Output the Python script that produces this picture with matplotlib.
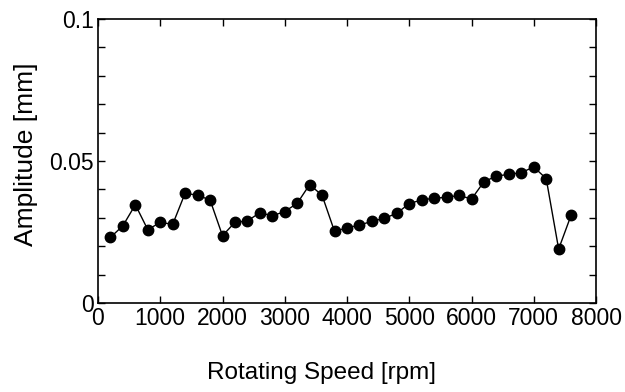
import numpy as np
import matplotlib
matplotlib.use("Agg")
import matplotlib.pyplot as plt
from matplotlib.ticker import MultipleLocator, FuncFormatter

plt.rcParams['font.family'] = ['Liberation Sans', 'DejaVu Sans']

# Rotating speed [rpm] and measured amplitude [mm]
speed = [200, 400, 600, 800, 1000, 1200, 1400, 1600, 1800, 2000,
         2200, 2400, 2600, 2800, 3000, 3200, 3400, 3600, 3800, 4000,
         4200, 4400, 4600, 4800, 5000, 5200, 5400, 5600, 5800, 6000,
         6200, 6400, 6600, 6800, 7000, 7200, 7400, 7600]
amplitude = [0.0231, 0.0272, 0.0346, 0.0258, 0.0284, 0.0277, 0.0387, 0.0379, 0.0363, 0.0237,
             0.0284, 0.0289, 0.0318, 0.0307, 0.0322, 0.0351, 0.0417, 0.0379, 0.0252, 0.0265,
             0.0274, 0.0288, 0.0298, 0.0316, 0.0350, 0.0363, 0.0369, 0.0372, 0.0379, 0.0366,
             0.0427, 0.0447, 0.0453, 0.0459, 0.0479, 0.0438, 0.0190, 0.0309]

fig = plt.figure(figsize=(6.25, 3.92), dpi=100)
ax = fig.add_axes([98/625, 1 - 303/392, 498/625, 284/392])

ax.plot(speed, amplitude, color='black', linewidth=1.0,
        marker='o', markersize=7.5, markerfacecolor='black', markeredgecolor='black')

ax.set_xlim(0, 8000)
ax.set_ylim(0, 0.1)
ax.xaxis.set_major_locator(MultipleLocator(1000))
ax.yaxis.set_major_locator(MultipleLocator(0.01))

def ylab(v, pos):
    if abs(v) < 1e-9:
        return "0"
    if abs(v - 0.05) < 1e-9:
        return "0.05"
    if abs(v - 0.1) < 1e-9:
        return "0.1"
    return ""
ax.yaxis.set_major_formatter(FuncFormatter(ylab))

ax.tick_params(direction='in', top=True, right=True, length=5, width=1.0,
               labelsize=16.5, colors='black')
ax.tick_params(axis='x', pad=3)
ax.tick_params(axis='y', pad=3)
for s in ax.spines.values():
    s.set_linewidth(1.2)

ax.set_xlabel("Rotating Speed [rpm]", fontsize=17.5, labelpad=23)
ax.xaxis.label.set_x(0.448)
ax.set_ylabel("Amplitude [mm]", fontsize=19, labelpad=8)
ax.yaxis.label.set_y(0.525)

fig.savefig("out.png", dpi=100)
